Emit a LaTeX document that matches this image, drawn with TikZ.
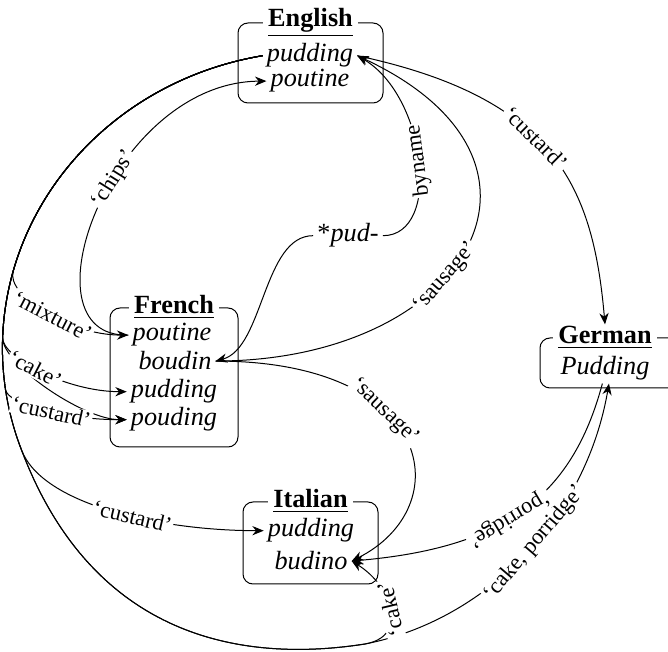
\documentclass[tikz,border=0pt]{standalone}
\usepackage{fontspec}
\setmainfont{Liberation Serif}
\usetikzlibrary{arrows.meta,fit}

\begin{document}
\begin{tikzpicture}[x=0.4pt,y=0.4pt,
  word/.style={anchor=base,inner xsep=1.5pt,inner ysep=1pt,font=\fontsize{10.5}{12}\selectfont\itshape},
  lang/.style={draw,rounded corners=4pt,inner sep=0pt},
  ttl/.style={fill=white,inner xsep=2pt,inner ysep=0.5pt,font=\fontsize{10.5}{12}\selectfont\bfseries},
  gl/.style={sloped,allow upside down,fill=white,inner sep=0.6pt,font=\fontsize{9}{10}\selectfont},
  arr/.style={-{Stealth[length=1.6mm,width=1.3mm]}},
  trunk/.style={x radius=315,y radius=297,start angle=100}]
\useasboundingbox (0,0) rectangle (668,-652);
% English
\node[lang,fit={(238,-23)(383,-103)}] (Ebox) {};
\node[ttl] (Etitle) at (Ebox.north) {\underline{English}};
\node[word] (Epud) at (310,-62) {pudding};
\node[word] (Epou) at (310,-87) {poutine};
% French
\node[lang,fit={(110,-308)(238,-447)}] (Fbox) {};
\node[ttl] (Ftitle) at (Fbox.north) {\underline{French}};
\node[word] (Fpou) at (172,-341) {poutine};
\node[word] (Fbou) at (175,-370) {boudin};
\node[word] (Fpud) at (174,-398) {pudding};
\node[word] (Fpoud) at (174,-426) {pouding};
% German (runs off the right edge)
\node[lang,fit={(540,-338)(684,-388)}] (Gbox) {};
\node[word] (Gpud) at (605,-375) {Pudding};
\node[ttl] (Gtitle) at (Gbox.north -| Gpud) {\underline{German}};
% Italian
\node[lang,fit={(243,-502)(378,-584)}] (Ibox) {};
\node[ttl] (Ititle) at (Ibox.north) {\underline{Italian}};
\node[word] (Ipud) at (311,-537) {pudding};
\node[word] (Ibud) at (311,-570) {budino};
% root
\node[word] (pud) at (348,-242) {{\upshape*}pud-};
\coordinate (sag) at (365,-644);

% round the left side, out of English pudding
\draw[arr] (Epud.west) arc[trunk,end angle=200]
  .. controls +(70,-185) and +(-128,-20) .. (sag)
  .. controls +(118,23) and +(-24,-138) .. (Gpud.-75) node[gl,pos=.55] {‘cake, porridge’};
\draw[arr] (Epud.west) arc[trunk,end angle=200]
  .. controls +(70,-185) and +(-128,-20) .. (sag)
  .. controls +(45,8) and +(40,-25) .. (Ibud.east) node[gl,pos=.5] {‘cake’};
\draw[arr] (Epud.west) arc[trunk,end angle=200]
  .. controls +(21,-56) and +(-100,0) .. (Ipud.west) node[gl,pos=.57] {‘custard’};
\draw[arr] (Epud.west) arc[trunk,end angle=178]
  .. controls +(0,-27) and +(-43,0) .. (Fpoud.west);
\draw[arr] (Epud.west) arc[trunk,end angle=188]
  .. controls +(2,-15) and +(-60,0) .. (Fpoud.west) node[gl,pos=.55] {‘custard’};
\draw[arr] (Epud.west) arc[trunk,end angle=178]
  .. controls +(0,-20) and +(-60,0) .. (Fpud.west) node[gl,pos=.45] {‘cake’};
\draw[arr] (Epud.west) arc[trunk,end angle=165]
  .. controls +(-7,-24) and +(-60,0) .. (Fpou.west) node[gl,pos=.55] {‘mixture’};

% the rest
\draw[arr] (Fpou.west) .. controls +(-110,-3) and +(-156,-1) .. (Epou.west) node[gl,pos=.58] {‘chips’};
\draw[arr] (pud.east) .. controls +(60,0) and +(69,-40) .. (Epud.east) node[gl,pos=.5] {byname};
\draw[arr] (pud.west) .. controls +(-50,0) and +(48,13) .. (Fbou.east);
\draw[arr] (Fbou.east) .. controls +(250,0) and +(228,-106) .. (Epud.east) node[gl,pos=.42] {‘sausage’};
\draw[arr] (Fbou.east) .. controls +(220,0) and +(107,54) .. (Ibud.east) node[gl,pos=.38] {‘sausage’};
\draw[arr] (Epud.east) .. controls +(196,-42) and +(-12,140) .. (Gtitle.north) node[gl,pos=.44] {‘custard’};
\draw[arr] (Gpud.-100) .. controls +(-31,-116) and +(149,13) .. (Ibud.east) node[gl,pos=.55] {‘porridge’};
\end{tikzpicture}
\end{document}
